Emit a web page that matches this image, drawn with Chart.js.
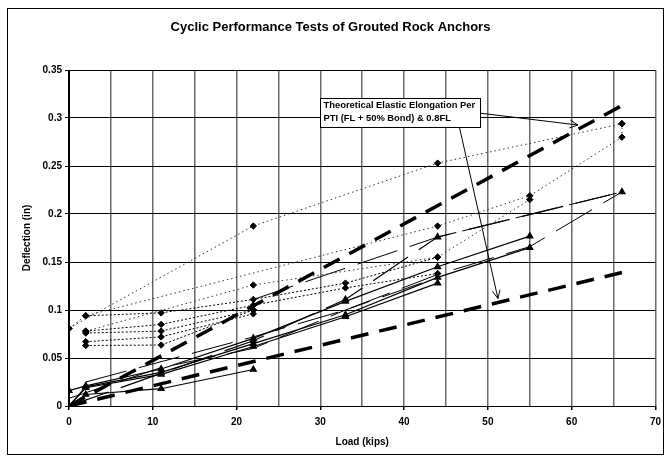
<!DOCTYPE html>
<html>
<head>
<meta charset="utf-8">
<script src="https://cdn.jsdelivr.net/npm/chart.js@4.4.0/dist/chart.umd.min.js"></script>
<style>
  html, body { margin: 0; padding: 0; background: #fff; }
  #wrap { width: 667px; height: 458px; }
</style>
</head>
<body>
<div id="wrap"><canvas id="chart" width="667" height="458"></canvas></div>
<script>
// theoretical elastic elongation (PTI FL + 50% bond, and 0.8FL)
const theoryLoad = [0, 66];
const ptiDefl = [0, 0.313];
const flDefl = [0, 0.139];

// total movement, round dots, diamonds
const dotLoadA = [0, 22, 44, 66];
const dotDeflA = [0.081, 0.1875, 0.253, 0.294];
const dotLoadB = [0, 2, 44, 55, 66, 66];
const dotDeflB = [0.081, 0.094, 0.1875, 0.219, 0.280, 0.294];
const dotLoadC = [2, 22, 44, 55];
const dotDeflC = [0.078, 0.126, 0.155, 0.215];

// total movement, square dots, diamonds
const sqLoadA = [2, 11, 22, 33, 44];
const sqDeflA = [0.094, 0.097, 0.111, 0.128, 0.155];
const sqLoadB = [2, 11, 22, 33, 44];
const sqDeflB = [0.078, 0.085, 0.105, 0.123, 0.138];
const sqLoadC = [2, 11, 22];
const sqDeflC = [0.076, 0.078, 0.100];
const sqLoadD = [2, 11, 22];
const sqDeflD = [0.067, 0.072, 0.096];
const sqLoadE = [2, 11, 22];
const sqDeflE = [0.063, 0.0635, 0.100];

// elastic movement, solid, triangles
const triLoadA = [0, 2, 11, 22];
const triDeflA = [0, 0.012, 0.018, 0.038];
const triLoadB = [0, 2, 11, 22, 33, 44, 55];
const triDeflB = [0.016, 0.021, 0.0385, 0.0705, 0.109, 0.145, 0.177];
const triLoadC = [0, 2, 11, 22, 33, 44, 55];
const triDeflC = [0, 0.02, 0.035, 0.065, 0.095, 0.134, 0.165];
const triLoadD = [0, 2, 11, 22, 33, 44];
const triDeflD = [0, 0.019, 0.033, 0.062, 0.093, 0.128];
const triLoadE = [0, 22, 33, 44, 66];
const triDeflE = [0, 0.068, 0.111, 0.176, 0.223];

// long dash, no markers
const ldLoadA = [22, 44, 66];
const ldDeflA = [0.111, 0.176, 0.223];
const ldLoadB = [2, 22, 33, 44, 55, 66];
const ldDeflB = [0.025, 0.072, 0.100, 0.137, 0.166, 0.223];
const ldLoadC = [0, 11, 22, 33, 44];
const ldDeflC = [0.008, 0.040, 0.060, 0.100, 0.134];

const xTicks = [0, 10, 20, 30, 40, 50, 60, 70];
const yTicks = [0, 0.05, 0.1, 0.15, 0.2, 0.25, 0.3, 0.35];

const FONT = '"Liberation Sans", Arial, sans-serif';

const pts = (xs, ys) => xs.map((x, i) => ({ x: x, y: ys[i] }));

function theory(xs, ys) {
  return { data: pts(xs, ys), showLine: true, borderColor: '#000', borderWidth: 3.5,
    borderDash: [18, 11], pointRadius: 0 };
}
function dotted(xs, ys, dash, color) {
  return { data: pts(xs, ys), showLine: true, borderColor: color, borderWidth: 1,
    borderDash: dash, pointStyle: 'rectRot', pointRadius: 3.2,
    pointBackgroundColor: '#000', pointBorderColor: '#000' };
}
function solidTri(xs, ys, dash) {
  return { data: pts(xs, ys), showLine: true, borderColor: '#000', borderWidth: 1.2,
    borderDash: dash || [], pointStyle: 'triangle', pointRadius: 3.5,
    pointBackgroundColor: '#000', pointBorderColor: '#000' };
}
function longDash(xs, ys) {
  return { data: pts(xs, ys), showLine: true, borderColor: '#000', borderWidth: 1,
    borderDash: [42, 13], pointRadius: 0 };
}

// annotation box and arrows (in data units)
const note = {
  lines: ['Theoretical Elastic Elongation Per', 'PTI (FL + 50% Bond) & 0.8FL'],
  box: { x1: 30.0, y1: 0.321, x2: 49.1, y2: 0.2906 },
  arrows: [
    { fx: 49.1, fy: 0.305, tx: 60.75, ty: 0.2927 },
    { fx: 46.6, fy: 0.2906, tx: 51.2, ty: 0.112 }
  ]
};

const extras = {
  id: 'extras',
  afterDatasetsDraw(chart) {
    const { ctx, scales: { x, y } } = chart;
    ctx.save();
    ctx.strokeStyle = '#000';
    ctx.fillStyle = '#000';
    ctx.lineWidth = 1;
    // arrows
    note.arrows.forEach(a => {
      const x1 = x.getPixelForValue(a.fx), y1 = y.getPixelForValue(a.fy);
      const x2 = x.getPixelForValue(a.tx), y2 = y.getPixelForValue(a.ty);
      ctx.beginPath();
      ctx.moveTo(x1, y1);
      ctx.lineTo(x2, y2);
      const ang = Math.atan2(y2 - y1, x2 - x1);
      const len = 9, spread = 0.45;
      ctx.moveTo(x2 - len * Math.cos(ang - spread), y2 - len * Math.sin(ang - spread));
      ctx.lineTo(x2, y2);
      ctx.lineTo(x2 - len * Math.cos(ang + spread), y2 - len * Math.sin(ang + spread));
      ctx.stroke();
    });
    // box
    const bx = Math.round(x.getPixelForValue(note.box.x1)) + 0.5;
    const by = Math.round(y.getPixelForValue(note.box.y1)) + 0.5;
    const bw = Math.round(x.getPixelForValue(note.box.x2) - bx);
    const bh = Math.round(y.getPixelForValue(note.box.y2) - by);
    ctx.fillStyle = '#fff';
    ctx.fillRect(bx, by, bw, bh);
    ctx.strokeRect(bx, by, bw, bh);
    ctx.fillStyle = '#000';
    ctx.font = 'bold 9.4px ' + FONT;
    ctx.textBaseline = 'middle';
    ctx.textAlign = 'left';
    ctx.fillText(note.lines[0], bx + 3, by + 7);
    ctx.fillText(note.lines[1], bx + 3, by + 20);
    ctx.restore();
  },
  afterDraw(chart) {
    const ctx = chart.ctx;
    ctx.save();
    ctx.strokeStyle = '#000';
    ctx.lineWidth = 1;
    ctx.strokeRect(7.5, 8.5, 656, 446);
    ctx.restore();
  }
};

new Chart(document.getElementById('chart'), {
  type: 'scatter',
  data: {
    datasets: [
      theory(theoryLoad, ptiDefl),
      theory(theoryLoad, flDefl),
      dotted(dotLoadA, dotDeflA, [1.5, 3], '#333'),
      dotted(dotLoadB, dotDeflB, [1.5, 3], '#333'),
      dotted(dotLoadC, dotDeflC, [1.5, 3], '#333'),
      dotted(sqLoadA, sqDeflA, [2, 2], '#000'),
      dotted(sqLoadB, sqDeflB, [2, 2], '#000'),
      dotted(sqLoadC, sqDeflC, [2, 2], '#000'),
      dotted(sqLoadD, sqDeflD, [2, 2], '#000'),
      dotted(sqLoadE, sqDeflE, [2, 2], '#000'),
      solidTri(triLoadA, triDeflA),
      solidTri(triLoadB, triDeflB),
      solidTri(triLoadC, triDeflC),
      solidTri(triLoadD, triDeflD),
      solidTri(triLoadE, triDeflE, [42, 13]),
      longDash(ldLoadA, ldDeflA),
      longDash(ldLoadB, ldDeflB),
      longDash(ldLoadC, ldDeflC)
    ]
  },
  options: {
    responsive: false,
    animation: false,
    devicePixelRatio: 1,
    layout: { padding: { top: 0, right: 6, left: 0, bottom: 0 } },
    plugins: {
      legend: { display: false },
      tooltip: { enabled: false },
      title: {
        display: true,
        text: 'Cyclic Performance Tests of Grouted Rock Anchors',
        color: '#000',
        font: { family: FONT, size: 13, weight: 'bold' },
        padding: { top: 20, bottom: 34.4 }
      }
    },
    scales: {
      x: {
        type: 'linear',
        min: 0, max: 70,
        afterBuildTicks: s => { s.ticks = []; for (let v = 0; v <= 70; v += 5) s.ticks.push({ value: v }); },
        ticks: {
          color: '#000', padding: 6, maxRotation: 0, autoSkip: false,
          font: { family: FONT, size: 10, weight: 'bold' },
          callback: v => (xTicks.includes(v) ? String(v) : '')
        },
        grid: {
          color: c => (c.tick && c.tick.value === 0 ? '#000' : '#6a6a6a'),
          lineWidth: 1.5,
          tickLength: 4,
          tickColor: c => (c.tick && xTicks.includes(c.tick.value) ? '#000' : 'rgba(0,0,0,0)')
        },
        border: { color: '#000', width: 1 },
        title: {
          display: true, text: 'Load (kips)', color: '#000',
          font: { family: FONT, size: 10, weight: 'bold' },
          padding: { top: 0, bottom: 10 }
        },
        afterFit: s => { s.height = 52; }
      },
      y: {
        type: 'linear',
        min: 0, max: 0.35,
        afterBuildTicks: s => { s.ticks = yTicks.map(v => ({ value: v })); },
        ticks: {
          color: '#000', padding: 3,
          font: { family: FONT, size: 10, weight: 'bold' },
          callback: v => String(+v.toFixed(2))
        },
        grid: { color: '#000', lineWidth: 1, tickLength: 4, tickColor: '#000' },
        border: { color: '#000', width: 1 },
        title: {
          display: true, text: 'Deflection (in)', color: '#000',
          font: { family: FONT, size: 10, weight: 'bold' },
          padding: { top: 21, bottom: 0 }
        },
        afterFit: s => { s.width = 69; }
      }
    }
  },
  plugins: [extras]
});
</script>
</body>
</html>
